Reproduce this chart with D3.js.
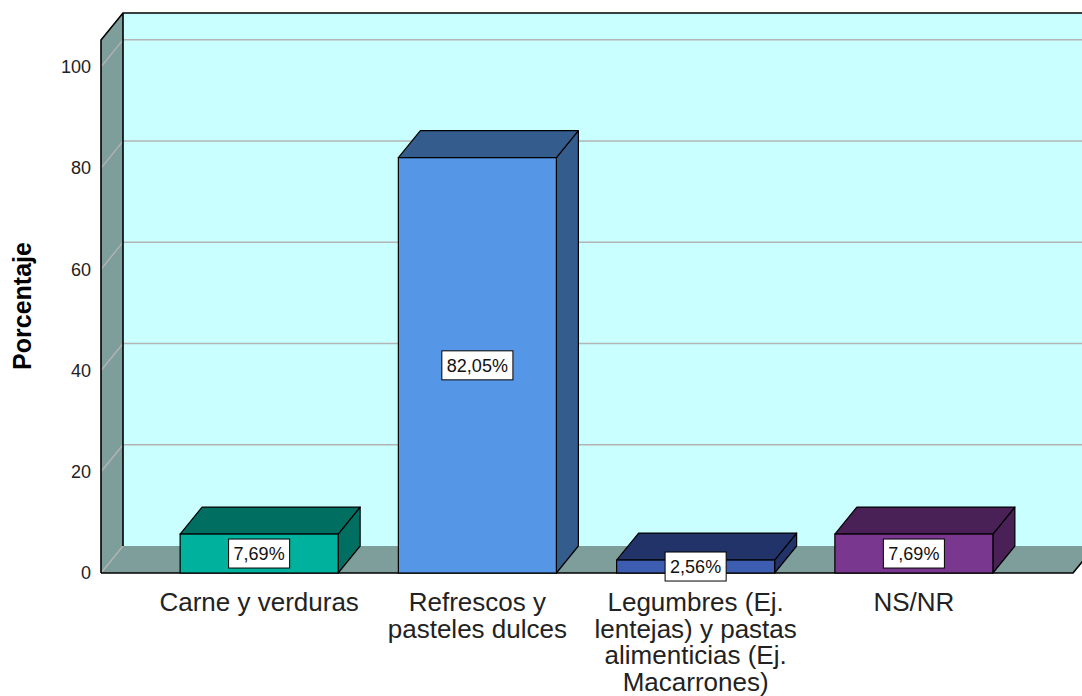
<!DOCTYPE html>
<html>
<head>
<meta charset="utf-8">
<script src="https://cdn.jsdelivr.net/npm/d3@7"></script>
<style>
  html, body { margin: 0; padding: 0; background: #ffffff; }
  svg { display: block; font-family: "Liberation Sans", Arial, sans-serif; }
</style>
</head>
<body>
<svg id="chart" width="1082" height="696"></svg>
<script>
// Categories (each split into the lines shown under the bar)
const categories = ["Carne y verduras", "Refrescos y pasteles dulces", "Legumbres (Ej. lentejas) y pastas alimenticias (Ej. Macarrones)", "NS/NR"];
const categoryLines = [
  ["Carne y verduras"],
  ["Refrescos y", "pasteles dulces"],
  ["Legumbres (Ej.", "lentejas) y pastas", "alimenticias (Ej.", "Macarrones)"],
  ["NS/NR"]
];
// Percentages per category
const values = [7.69, 82.05, 2.56, 7.69];
const valueLabels = ["7,69%", "82,05%", "2,56%", "7,69%"];
// Y axis ticks
const yTicks = [0, 20, 40, 60, 80, 100];
const yMax = 105.3;
// Bar face colours: front and shaded (top / side)
const frontColors = ["#00B29D", "#5597E6", "#3D5DB0", "#7A3790"];
const shadeColors = ["#006E60", "#345C8C", "#22336A", "#4A2156"];

const svg = d3.select("#chart");

// 3D depth offset
const DX = 22, DY = -27;

const y = d3.scaleLinear().domain([0, yMax]).range([573, 40]);
const x = d3.scaleBand().domain(categories).range([150, 1023])
  .paddingInner(0.276).paddingOuter(0.138);

const xLeft = 101;
const xRight = 1073;
const y0 = y(0);
const yTop = y(yMax);

const wallGrey = "#7E9E9B";
const backWall = "#C9FFFF";
const gridColor = "#B4B4B4";

// Back wall
svg.append("rect")
  .attr("x", xLeft + DX).attr("y", yTop + DY)
  .attr("width", 1200).attr("height", y0 - yTop)
  .attr("fill", backWall);

// Gridlines on the back wall
svg.append("g").selectAll("line").data(yTicks.filter(t => t > 0)).join("line")
  .attr("x1", xLeft + DX).attr("x2", 1200)
  .attr("y1", d => y(d) + DY).attr("y2", d => y(d) + DY)
  .attr("stroke", gridColor).attr("stroke-width", 1.5);

// Left wall
svg.append("path")
  .attr("d", `M${xLeft},${yTop} L${xLeft + DX},${yTop + DY} L${xLeft + DX},${y0 + DY} L${xLeft},${y0} Z`)
  .attr("fill", wallGrey);

// Floor
svg.append("path")
  .attr("d", `M${xLeft},${y0} L${xLeft + DX},${y0 + DY} L${xRight + DX},${y0 + DY} L${xRight},${y0} Z`)
  .attr("fill", wallGrey);

// Gridlines on the left wall
svg.append("g").selectAll("line").data(yTicks).join("line")
  .attr("x1", xLeft).attr("x2", xLeft + DX)
  .attr("y1", d => y(d)).attr("y2", d => y(d) + DY)
  .attr("stroke", gridColor).attr("stroke-width", 1.3);

// Wall edges
svg.append("path")
  .attr("d", `M${xLeft},${y0} L${xLeft},${yTop} L${xLeft + DX},${yTop + DY} L1200,${yTop + DY} M${xLeft + DX},${yTop + DY} L${xLeft + DX},${y0 + DY} M${xLeft},${y0} L${xRight},${y0} L${xRight + DX},${y0 + DY}`)
  .attr("fill", "none").attr("stroke", "#000").attr("stroke-width", 1.6);

// Bars
const bw = x.bandwidth();
const bars = svg.append("g").selectAll("g").data(values).join("g");
bars.each(function (v, i) {
  const g = d3.select(this);
  const x0 = x(categories[i]), x1 = x0 + bw, yt = y(v);
  g.append("path")
    .attr("d", `M${x1},${yt} L${x1 + DX},${yt + DY} L${x1 + DX},${y0 + DY} L${x1},${y0} Z`)
    .attr("fill", shadeColors[i]).attr("stroke", "#000").attr("stroke-width", 1.2).attr("stroke-linejoin", "round");
  g.append("path")
    .attr("d", `M${x0},${yt} L${x0 + DX},${yt + DY} L${x1 + DX},${yt + DY} L${x1},${yt} Z`)
    .attr("fill", shadeColors[i]).attr("stroke", "#000").attr("stroke-width", 1.2).attr("stroke-linejoin", "round");
  g.append("rect")
    .attr("x", x0).attr("y", yt).attr("width", bw).attr("height", y0 - yt)
    .attr("fill", frontColors[i]).attr("stroke", "#000").attr("stroke-width", 1.2);
});

// Value labels
bars.each(function (v, i) {
  const g = d3.select(this);
  const cx = x(categories[i]) + bw / 2;
  const cy = (y(v) + y0) / 2;
  const box = g.append("rect").attr("fill", "#fff").attr("stroke", "#000").attr("stroke-width", 1);
  const t = g.append("text")
    .attr("x", cx).attr("y", cy).attr("dy", "0.36em")
    .attr("text-anchor", "middle")
    .attr("font-size", 18).attr("fill", "#111")
    .text(valueLabels[i]);
  const w = t.node().getComputedTextLength() + 10;
  const h = 29;
  box.attr("x", cx - w / 2).attr("y", cy - h / 2).attr("width", w).attr("height", h);
});

// Y axis
const yAxis = d3.axisLeft(y).tickValues(yTicks).tickSize(0).tickSizeOuter(0).tickPadding(10);
const ya = svg.append("g").attr("transform", `translate(${xLeft},0)`).call(yAxis);
ya.select(".domain").remove();
ya.selectAll("text").attr("font-size", 18).attr("fill", "#222")
  .attr("font-family", "'Liberation Sans', Arial, sans-serif");

// X axis labels
const xAxis = d3.axisBottom(x).tickSize(0).tickPadding(0);
const xa = svg.append("g").attr("transform", `translate(0,${y0})`).call(xAxis);
xa.select(".domain").remove();
xa.selectAll("text").each(function (d, i) {
  const t = d3.select(this).text(null)
    .attr("font-size", 26).attr("fill", "#222").attr("y", 38).attr("dy", null)
    .attr("font-family", "'Liberation Sans', Arial, sans-serif");
  categoryLines[i].forEach((line, j) => {
    t.append("tspan").attr("x", 0).attr("dy", j === 0 ? 0 : 26.7).text(line);
  });
});

// Y axis title
svg.append("text")
  .attr("transform", "translate(31,306) rotate(-90)")
  .attr("text-anchor", "middle")
  .attr("font-size", 25).attr("font-weight", "bold").attr("fill", "#000")
  .text("Porcentaje");
</script>
</body>
</html>
